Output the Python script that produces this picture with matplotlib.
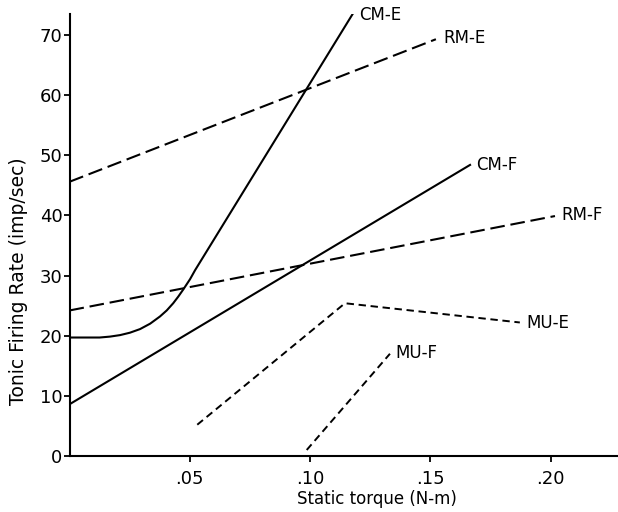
import matplotlib
matplotlib.use('Agg')
import matplotlib.pyplot as plt

plt.rcParams['font.family'] = ['DejaVu Sans']

# curves (torque N-m, rate imp/sec)
cm_e_x = [0.0, 0.0125, 0.0168, 0.021, 0.0251, 0.0293, 0.0335, 0.0376, 0.0404,
          0.0431, 0.0452, 0.0473, 0.0501, 0.0522, 0.1177]
cm_e_y = [19.7, 19.7, 19.85, 20.1, 20.5, 21.1, 22.0, 23.2, 24.2,
          25.4, 26.5, 27.7, 29.4, 30.9, 73.5]

rm_e_x = [0.0, 0.1523]
rm_e_y = [45.6, 69.3]

cm_f_x = [0.0, 0.1665]
cm_f_y = [8.6, 48.4]

rm_f_x = [0.0, 0.2018]
rm_f_y = [24.2, 39.9]

mu_e_x = [0.0531, 0.1145, 0.1872]
mu_e_y = [5.2, 25.4, 22.2]

mu_f_x = [0.0986, 0.1332]
mu_f_y = [1.0, 17.0]

labels = ['CM-E', 'RM-E', 'CM-F', 'RM-F', 'MU-E', 'MU-F']
label_x = [0.1204, 0.1555, 0.169, 0.2043, 0.190, 0.1355]
label_y = [73.4, 69.5, 48.4, 40.0, 22.1, 17.1]

x_ticks = [0.05, 0.10, 0.15, 0.20]
x_tick_labels = ['.05', '.10', '.15', '.20']
y_ticks = [0, 10, 20, 30, 40, 50, 60, 70]

fig = plt.figure(figsize=(6.18, 5.12), dpi=100)
ax = fig.add_axes([0.1125, 0.1094, 0.8875, 0.8633])

long_dash = (0, (7.0, 2.8))
short_dash = (0, (3.8, 2.4))

ax.plot(cm_e_x, cm_e_y, color='black', lw=1.5, solid_joinstyle='round')
ax.plot(cm_f_x, cm_f_y, color='black', lw=1.5)
ax.plot(rm_e_x, rm_e_y, color='black', lw=1.5, linestyle=long_dash)
ax.plot(rm_f_x, rm_f_y, color='black', lw=1.5, linestyle=long_dash)
ax.plot(mu_e_x, mu_e_y, color='black', lw=1.4, linestyle=short_dash)
ax.plot(mu_f_x, mu_f_y, color='black', lw=1.4, linestyle=short_dash)

for name, lx, ly in zip(labels, label_x, label_y):
    ax.text(lx, ly, name, fontsize=12, ha='left', va='center')

ax.set_xlim(0, 0.228)
ax.set_ylim(0, 73.5)
ax.set_xticks(x_ticks)
ax.set_xticklabels(x_tick_labels)
ax.set_yticks(y_ticks)

ax.spines['top'].set_visible(False)
ax.spines['right'].set_visible(False)
ax.spines['left'].set_linewidth(1.5)
ax.spines['bottom'].set_linewidth(1.5)
ax.tick_params(axis='both', direction='out', length=4, width=1.3, labelsize=13)
ax.tick_params(axis='x', pad=6)
ax.tick_params(axis='y', pad=1)

ax.set_xlabel('Static torque (N-m)', fontsize=12)
ax.xaxis.set_label_coords(0.561, -0.078)
ax.set_ylabel('Tonic Firing Rate (imp/sec)', fontsize=13.5)
ax.yaxis.set_label_coords(-0.076, 0.396)

fig.savefig('out.png', dpi=100)
